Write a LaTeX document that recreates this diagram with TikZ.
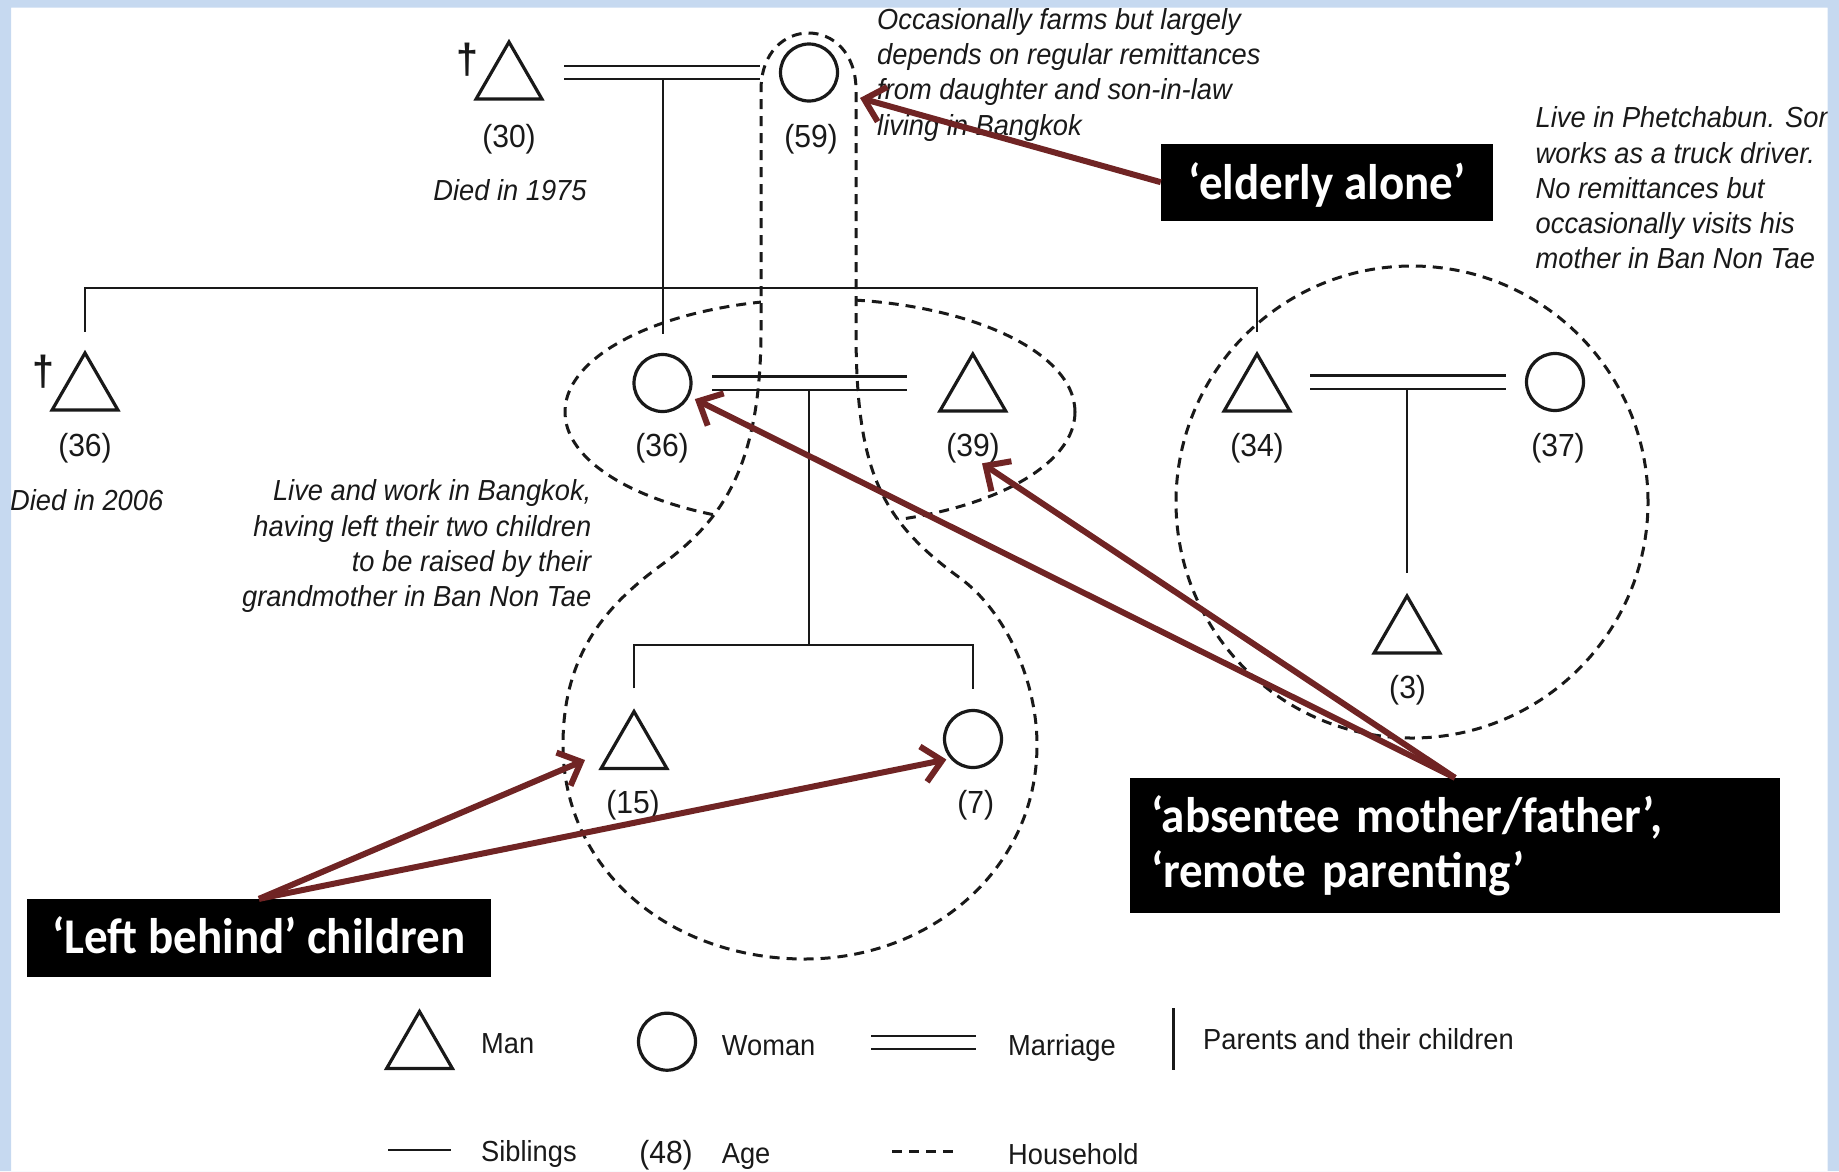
\documentclass[tikz,border=0pt]{standalone}
\usepackage{fontspec}
\setmainfont{Liberation Sans}[FakeStretch=0.94]
\newfontfamily\calloutfamily{Carlito}[FakeStretch=0.94]
\usetikzlibrary{shapes.geometric, arrows.meta, calc}

\definecolor{ink}{RGB}{25,25,25}
\definecolor{pointerred}{RGB}{112,36,36}
\definecolor{framebg}{RGB}{198,217,240}

\newcommand\agefont{\fontsize{32}{36}\selectfont}
\newcommand\legendfont{\fontsize{29}{35}\selectfont}
\newcommand\notefont{\fontsize{29}{35.3}\selectfont\itshape}
\newcommand\calloutfont{\fontsize{50}{55}\selectfont\calloutfamily\bfseries}
\newcommand\crossfont{\fontsize{42}{42}\selectfont\bfseries}

% outline of the grandmother's household: narrow neck round her, wide bulb round the grandchildren
\newcommand\hhkeyhole{(761,330) -- (761,90) .. controls (761,14) and (856,14) .. (856,90)
  -- (856,330) .. controls (856,470) and (880,520) .. (960,578)
  .. controls (1005,611) and (1037,680) .. (1037,745)
  .. controls (1037,870) and (930,959) .. (805,959)
  .. controls (670,959) and (563,870) .. (563,745)
  .. controls (563,660) and (600,610) .. (660,566)
  .. controls (720,522) and (761,470) .. (761,330) -- cycle}

\begin{document}
\begin{tikzpicture}[x=1pt, y=-1pt,
  man/.style={regular polygon, regular polygon sides=3, draw=ink, line width=3.2pt,
    minimum size=76pt, inner sep=0pt},
  woman/.style={circle, draw=ink, line width=3.2pt, minimum size=57pt, inner sep=0pt},
  age/.style={font=\agefont, text=ink, inner sep=0pt, anchor=base},
  legend/.style={font=\legendfont, text=ink, inner sep=0pt, anchor=base west},
  note/.style={font=\notefont, text=ink, inner sep=0pt},
  cross/.style={font=\crossfont, text=ink, inner sep=0pt},
  kin/.style={draw=ink, line width=2pt},
  marriage/.style={draw=ink, line width=2.2pt, double=white, double distance=11pt},
  household/.style={draw=ink, line width=3pt, dash pattern=on 10pt off 7pt},
  callout/.style={fill=black, text=white, font=\calloutfont, inner xsep=0pt, inner ysep=0pt},
  pointer/.style={draw=pointerred, line width=6pt,
    -{Straight Barb[length=19pt, width=36pt]}},
]
\useasboundingbox (0,0) rectangle (1839,1171);

% household of the couple working in Bangkok; the part inside the
% grandmother's household is covered by the white fill below
\draw[household] (820,412) ellipse [x radius=255pt, y radius=113pt];
\fill[white] \hhkeyhole;

% ---- people ----
\node[man] (T30) at (509,80) {};
\node[cross] (X30) at (467,60) {†};
\node[age] (L30) at (509,147) {(30)};
\node[note, anchor=base] (D30) at (510,200) {Died in 1975};

\node[woman] (C59) at (809,72.5) {};
\node[age] (L59) at (811,147) {(59)};

\node[man] (T36L) at (85,391) {};
\node[cross] (X36L) at (43,371.7) {†};
\node[age] (L36L) at (85,456.5) {(36)};
\node[note, anchor=base] (D36L) at (86.7,510) {Died in 2006};

\node[woman] (C36M) at (662.5,383) {};
\node[age] (L36M) at (662,456.5) {(36)};
\node[man] (T39) at (972.8,392) {};
\node[age] (L39) at (973,456.5) {(39)};

\node[man] (T34) at (1257,392) {};
\node[age] (L34) at (1257,456.5) {(34)};
\node[woman] (C37) at (1555,382) {};
\node[age] (L37) at (1558,456.5) {(37)};

\node[man] (T15) at (634,749.5) {};
\node[age] (L15) at (633,813) {(15)};
\node[woman] (C7) at (973,739) {};
\node[age] (L7) at (975.7,813) {(7)};

\node[man] (T3) at (1407,634) {};
\node[age] (L3) at (1407.6,698) {(3)};

% ---- notes ----
\node[note, anchor=north west, align=left] (N59) at (877,8)
  {Occasionally farms but largely\\depends on regular remittances\\from daughter and son-in-law\\living in Bangkok};
\node[note, anchor=north west, align=left] (N34) at (1535.5,106.5)
  {Live in Phetchabun. Son\\works as a truck driver.\\No remittances but\\occasionally visits his\\mother in Ban Non Tae};
\node[note, anchor=north east, align=right] (N36) at (591.5,479.5)
  {Live and work in Bangkok,\\having left their two children\\to be raised by their\\grandmother in Ban Non Tae};

% ---- marriages ----
\draw[marriage, shorten <=55pt, shorten >=49pt] (T30.center |- C59.center) -- (C59.center);
\draw[marriage, shorten <=49.5pt, shorten >=66pt] (C36M.center) -- (C36M.center -| T39.center);
\draw[marriage, shorten <=53pt, shorten >=49pt] (T34.center |- C37.center) -- (C37.center);

% ---- descent and sibling lines ----
\coordinate (sib) at (662.5,288);
\coordinate (kids) at (808.5,645);
\draw[kin] ($(C36M.north |- C59.center)+(0,6.6)$) -- ([yshift=19pt]C36M.north);
\draw[kin] ([yshift=18pt]T36L.north) |- (sib) -| ([yshift=19pt]T34.north);
\draw[kin] ($(kids |- C36M.center)+(0,6.6)$) -- (kids);
\draw[kin] ([yshift=20pt]T15.north) |- (kids) -| ([yshift=20pt]C7.north);
\draw[kin] ($(T3.north |- C37.center)+(0,6.6)$) -- ([yshift=20pt]T3.north);

% ---- households ----
\draw[household] \hhkeyhole;
\draw[household] (1412,502) circle [radius=236pt];

% ---- legend ----
\node[man] (LegMan) at (419.5,1049.5) {};
\node[legend] (LegManTxt) at (481,1053) {Man};
\node[woman] (LegWoman) at (667,1041.7) {};
\node[legend] (LegWomanTxt) at (721.7,1055) {Woman};
\draw[marriage] (871,1042.5) -- (975.7,1042.5);
\node[legend] (LegMarTxt) at (1008,1055) {Marriage};
\draw[draw=ink, line width=3pt] (1173.8,1008) -- (1173.8,1070);
\node[legend] (LegParTxt) at (1203,1049) {Parents and their children};
\draw[kin, line width=2.6pt] (388.4,1150) -- (450.6,1150);
\node[legend] (LegSibTxt) at (481,1161) {Siblings};
\node[age] (LegAge) at (666,1163) {(48)};
\node[legend] (LegAgeTxt) at (721.7,1163) {Age};
\draw[household] (892,1151) -- (956,1151);
\node[legend] (LegHhTxt) at (1008,1164) {Household};

% ---- callouts ----
\node[callout, minimum width=332pt, text height=55.5pt, text depth=21.5pt] (Elderly)
  at (1327,182.2) {‘elderly alone’};
\node[callout, text width=608pt, inner xsep=21pt, minimum height=135pt, align=left] (Absentee)
  at (1455,845.5) {‘absentee mother/father’,\\‘remote parenting’};
\node[callout, minimum width=464pt, text height=54.2pt, text depth=23.3pt] (LeftBehind)
  at (259,937.8) {‘Left behind’ children};

\coordinate (tip59) at ($(C59.center)+(51,25.5)$);
\coordinate (tip15) at ($(T15.center)+(-49,10.5)$);
\coordinate (tip7) at ($(C7.center)+(-26.6,20.5)$);
\draw[pointer] (Elderly.west) -- (tip59);
\draw[pointer, shorten >=6pt] (Absentee.north) -- (C36M);
\draw[pointer] (Absentee.north) -- ([xshift=9pt]L39.south);
\draw[pointer] (LeftBehind.north) -- (tip15);
\draw[pointer] (LeftBehind.north) -- (tip7);

% ---- slide frame ----
\fill[framebg, even odd rule] (0,0) rectangle (1839,1171) (11,7.7) rectangle (1827.5,1171);
\end{tikzpicture}
\end{document}
